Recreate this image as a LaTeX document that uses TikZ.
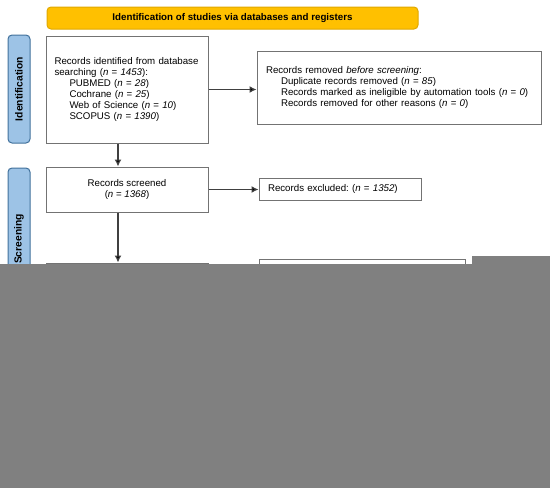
\documentclass[tikz,border=0pt]{standalone}
\usepackage{fontspec}
\setmainfont{Liberation Sans}
\usetikzlibrary{arrows.meta, calc}

\definecolor{bannerfill}{HTML}{FFC000}
\definecolor{bannerline}{HTML}{E0A800}
\definecolor{phasefill}{HTML}{9DC3E6}
\definecolor{phaseline}{HTML}{41719C}
\definecolor{hidefill}{HTML}{808080}

\newcommand{\subrec}{\hspace*{15pt}}
\frenchspacing

\begin{document}
\begin{tikzpicture}[
    x=1pt, y=-1pt,
    % Styles for the boxes and the arrows
    recbox/.style={draw=black!55, line width=1pt, fill=white, inner ysep=0pt,
        font=\fontsize{9.7}{11.1}\selectfont},
    phase/.style={draw=phaseline, fill=phasefill, rounded corners=4pt, line width=1pt,
        rotate=90, minimum height=22pt, inner sep=0pt,
        font=\fontsize{10.3}{12}\selectfont\bfseries},
    flow/.style={draw=black!75, line width=1.2pt,
        -{Latex[length=7pt,width=7pt,fill=black]}}
]

    \useasboundingbox (0,0) rectangle (550,488);

    % Box centres

    \coordinate (Banner) at (232.5, 18);
    \coordinate (PhaseId) at (19, 89);
    \coordinate (PhaseScr) at (19, 239);
    \coordinate (Records) at (127, 89.5);
    \coordinate (Removed) at (399, 87.5);
    \coordinate (Screened) at (127, 189.5);
    \coordinate (Excluded) at (340, 189);
    \coordinate (Retrieval) at (127, 300);
    \coordinate (NotRetrieved) at (362, 290);

    %% Column of the downward arrows
    \coordinate (DownX) at (118, 0);


    % Heading and phases

    \node (banner) at (Banner) [draw=bannerline, fill=bannerfill, rounded corners=4pt,
        line width=1pt, minimum width=371pt, minimum height=22pt,
        font=\fontsize{9.75}{12}\selectfont\bfseries]
        {Identification of studies via databases and registers};

    \node (identification) at (PhaseId) [phase, minimum width=108pt] {Identification};
    \node (screening) at (PhaseScr) [phase, minimum width=142pt] {Screening};


    % Records

    \node (records) at (Records) [recbox, text width=145pt, inner xsep=8.5pt,
        minimum height=107pt, align=left]
        {Records identified from database\\
         searching (\textit{n} = \textit{1453}):\\
         \subrec PUBMED (\textit{n} = \textit{28})\\
         \subrec Cochrane (\textit{n} = \textit{25})\\
         \subrec Web of Science (\textit{n} = \textit{10})\\
         \subrec SCOPUS (\textit{n} = \textit{1390})};

    \node (removed) at (Removed) [recbox, text width=266pt, inner xsep=9pt,
        minimum height=73pt, align=left]
        {Records removed \textit{before screening}:\\
         \subrec Duplicate records removed (\textit{n} = \textit{85})\\
         \subrec Records marked as ineligible by automation tools (\textit{n} = \textit{0})\\
         \subrec Records removed for other reasons (\textit{n} = \textit{0})};

    \node (screened) at (Screened) [recbox, minimum width=162pt, minimum height=45pt,
        align=center]
        {Records screened\\(\textit{n} = \textit{1368})};

    \node (excluded) at (Excluded) [recbox, text width=144pt, inner xsep=9pt,
        minimum height=22pt, align=left]
        {Records excluded: (\textit{n} = \textit{1352})};

    %% Boxes whose text lies under the grey block
    \node (retrieval) at (Retrieval) [recbox, minimum width=162pt, minimum height=74pt] {};
    \node (notretrieved) at (NotRetrieved) [recbox, minimum width=206pt, minimum height=62pt] {};


    % Arrows

    \draw[flow] (records.east) -- (records.east -| removed.west);
    \draw[flow] (records.south -| DownX) -- (screened.north -| DownX);
    \draw[flow] (screened.east) -- (screened.east -| excluded.west);
    \draw[flow] (screened.south -| DownX) -- (retrieval.north -| DownX);


    % Grey block over the lower part

    \fill[hidefill] (0,264) rectangle (550,488);
    \fill[hidefill] (472,256) rectangle (550,264);

\end{tikzpicture}
\end{document}
